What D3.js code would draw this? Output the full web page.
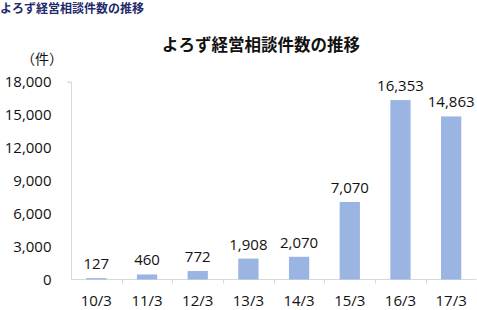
<!DOCTYPE html>
<html><head><meta charset="utf-8">
<script src="https://cdn.jsdelivr.net/npm/d3@7"></script>
<style>body{margin:0;background:#fff;} svg{display:block;}</style>
</head><body>
<script>
const categories = ["10/3","11/3","12/3","13/3","14/3","15/3","16/3","17/3"];
const values = [127,460,772,1908,2070,7070,16353,14863];
const yTicks = [0,3000,6000,9000,12000,15000,18000];
const pageTitle = "よろず経営相談件数の推移";
const chartTitle = "よろず経営相談件数の推移";
const unitLabel = "（件）";

const W = 477, H = 310;
const svg = d3.select("body").append("svg").attr("width", W).attr("height", H);
const font = "'Noto Sans CJK JP', 'Noto Sans', sans-serif";
const numFont = "'Open Sans', 'Noto Sans', sans-serif";

const x = d3.scaleBand().domain(categories).range([71, 476.5]).paddingInner(0.6).paddingOuter(0.3);
const y = d3.scaleLinear().domain([0, 18000]).range([279.5, 82]);

svg.append("text").attr("x", 0).attr("y", 12).text(pageTitle)
  .attr("font-family", font).attr("font-weight", "bold").attr("font-size", 12).attr("fill", "#1f2a6b")
  .attr("dominant-baseline", "auto").attr("dy", "0.5");

svg.append("text").attr("x", 261).attr("y", 51).attr("text-anchor", "middle").text(chartTitle)
  .attr("font-family", font).attr("font-weight", "bold").attr("font-size", 16.5).attr("fill", "#111");

svg.append("text").attr("x", 42).attr("y", 64).attr("text-anchor", "middle").text(unitLabel)
  .attr("font-family", font).attr("font-size", 14).attr("fill", "#111");

// y axis
const yAxis = d3.axisLeft(y).tickValues(yTicks).tickSize(4).tickPadding(16).tickFormat(d3.format(","));
const gy = svg.append("g").attr("transform", "translate(71.5,0)").call(yAxis);
gy.select(".domain").attr("stroke", "#d9d9d9").attr("d", "M-4,82H0V279.5");
gy.selectAll(".tick line").attr("stroke", "#d9d9d9").attr("x2", d => d === 18000 ? -4 : 0);
gy.selectAll(".tick text").attr("font-family", numFont).attr("font-size", 15).attr("fill", "#111");

// x axis
const xBand = d3.scaleBand().domain(categories).range([71, 476.5]);
const gx = svg.append("g").attr("transform", "translate(0,279.5)");
gx.append("line").attr("x1", 71).attr("x2", 476.5).attr("stroke", "#d9d9d9");
gx.selectAll(".sep").data(categories.slice(1)).join("line").attr("class", "sep")
  .attr("x1", d => Math.round(xBand(d)) + 0.5).attr("x2", d => Math.round(xBand(d)) + 0.5)
  .attr("y1", 0).attr("y2", 4).attr("stroke", "#d9d9d9");
gx.selectAll(".lab").data(categories).join("text").attr("class", "lab")
  .attr("x", d => xBand(d) + xBand.bandwidth() / 2).attr("y", 26).attr("text-anchor", "middle")
  .text(d => d).attr("font-family", numFont).attr("font-size", 15).attr("fill", "#111");

// bars
svg.selectAll(".bar").data(values).join("rect").attr("class", "bar")
  .attr("x", (d, i) => x(categories[i])).attr("width", x.bandwidth())
  .attr("y", d => y(d)).attr("height", d => y(0) - y(d)).attr("fill", "#9bb5e3");

svg.selectAll(".val").data(values).join("text").attr("class", "val")
  .attr("x", (d, i) => x(categories[i]) + x.bandwidth() / 2).attr("y", d => y(d) - 9)
  .attr("text-anchor", "middle").text(d => d3.format(",")(d))
  .attr("font-family", numFont).attr("font-size", 15).attr("fill", "#111");
</script>
</body></html>
